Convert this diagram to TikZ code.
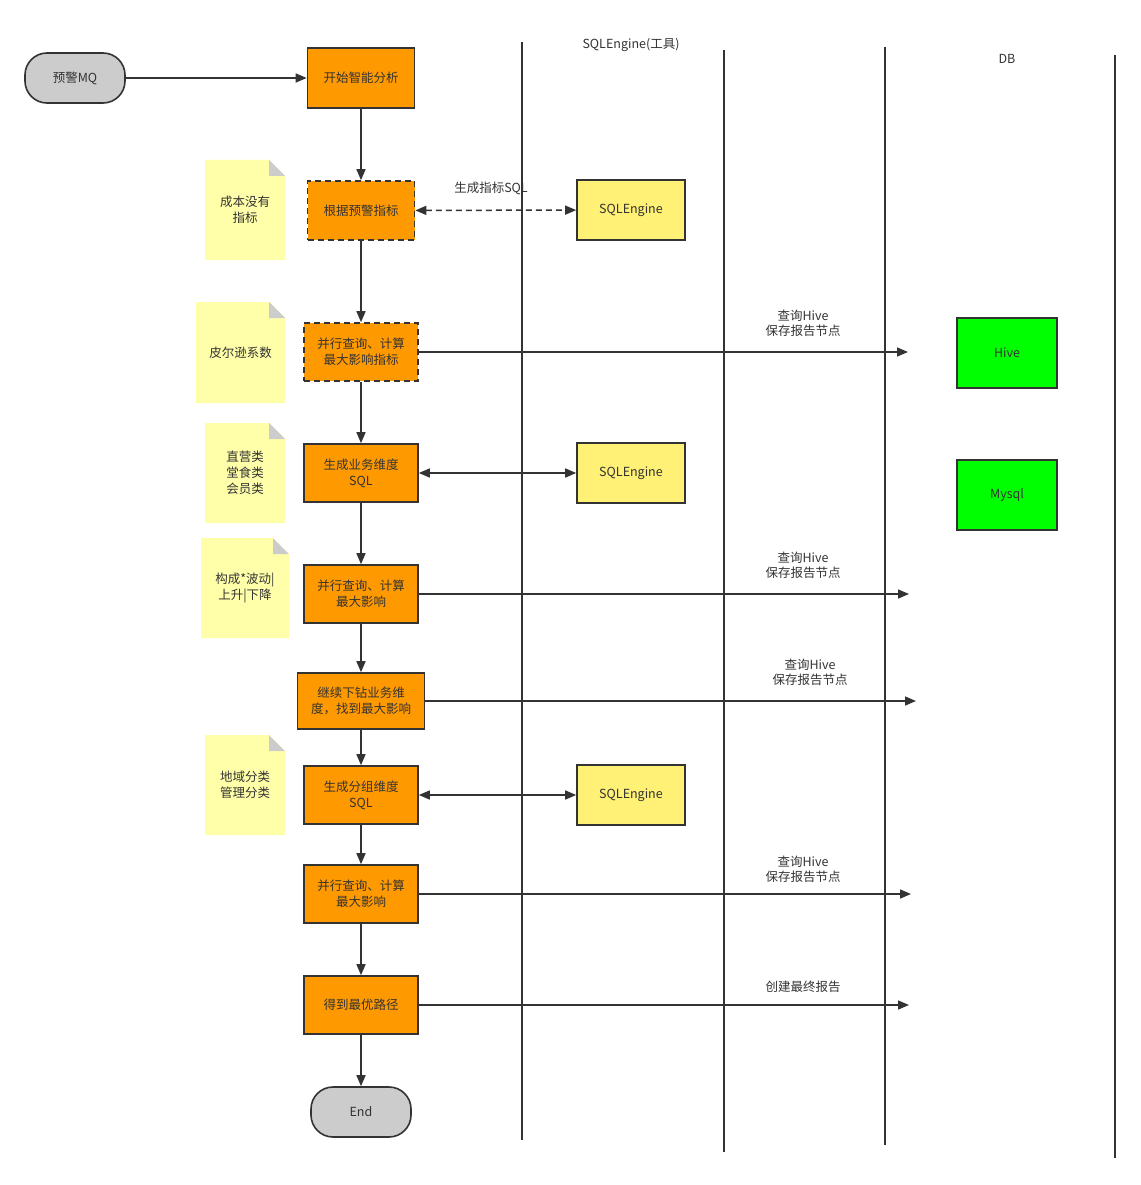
\documentclass[tikz,border=0pt]{standalone}
\usepackage{fontspec}
\setmainfont{Noto Sans CJK SC}
\usetikzlibrary{arrows.meta}
\definecolor{ln}{HTML}{333333}
\definecolor{orng}{HTML}{FF9900}
\definecolor{gry}{HTML}{CCCCCC}
\definecolor{ylw}{HTML}{FFF176}
\definecolor{grn}{HTML}{00FF00}
\definecolor{note}{HTML}{FFFFAA}
\definecolor{fold}{HTML}{CCCCCC}
\newcommand{\mynote}[5]{%
  \fill[note] (#1,#2) -- (#3-16,#2) -- (#3,#2+16) -- (#3,#4) -- (#1,#4) -- cycle;
  \fill[fold] (#3-16,#2) -- (#3-16,#2+16) -- (#3,#2+16) -- cycle;
  \coordinate (#5) at ({(#1+#3)/2},{(#2+#4)/2});
}
\begin{document}
\begin{tikzpicture}[x=1pt,y=-1pt,
  every node/.style={font=\fontsize{12.5}{16}\selectfont, text=ln, align=center},
  proc/.style={draw=ln, line width=1.6pt, fill=orng, minimum width=114pt, minimum height=58pt, inner sep=2pt},
  term/.style={draw=ln, line width=1.6pt, fill=gry, minimum width=100pt, minimum height=50pt, rounded corners=22pt},
  eng/.style={draw=ln, line width=1.6pt, fill=ylw, minimum width=108pt, minimum height=60pt},
  db/.style={draw=ln, line width=1.6pt, fill=grn, minimum width=100pt, minimum height=70pt},
  arr/.style={draw=ln, line width=1.5pt, -{Triangle[length=11pt,width=9pt]}},
  barr/.style={draw=ln, line width=1.5pt, {Triangle[length=11pt,width=9pt]}-{Triangle[length=11pt,width=9pt]}},
  lane/.style={draw=ln, line width=1.6pt},
  lbl/.style={font=\fontsize{12.5}{15}\selectfont}
]
\useasboundingbox (0,0) rectangle (1140,1185);

% lanes
\draw[lane] (522,42) -- (522,1140);
\draw[lane] (724,50) -- (724,1152);
\draw[lane] (885,47) -- (885,1145);
\draw[lane] (1115,55) -- (1115,1158);
\node[lbl] (laneA) at (631,45) {SQLEngine(工具)};
\node[lbl] (laneB) at (1007,59) {DB};

% notes
\mynote{205}{160}{285}{260}{pA}
\node (noteA) at (pA) {成本没有\\指标};
\mynote{196}{302}{285}{403}{pB}
\node (noteB) at (pB) {皮尔逊系数};
\mynote{205}{423}{285}{523}{pC}
\node (noteC) at (pC) {直营类\\堂食类\\会员类};
\mynote{201}{538}{289}{638}{pD}
\node (noteD) at (pD) {构成*波动|\\上升|下降};
\mynote{205}{735}{285}{835}{pE}
\node (noteE) at (pE) {地域分类\\管理分类};

% main flow
\node[term] (mq) at (75,78) {预警MQ};
\node[proc, minimum width=107pt, minimum height=60pt] (n1) at (361,78) {开始智能分析};
\node[proc, minimum width=107pt, minimum height=59pt, dashed, dash pattern=on 6pt off 4pt] (n2) at (361,210.5) {根据预警指标};
\node[proc, dashed, dash pattern=on 6pt off 4pt] (n3) at (361,352) {并行查询、计算\\最大影响指标};
\node[proc] (n4) at (361,473) {生成业务维度\\SQL};
\node[proc] (n5) at (361,594) {并行查询、计算\\最大影响};
\node[proc, minimum width=127pt, minimum height=56pt] (n6) at (361,701) {继续下钻业务维\\度，找到最大影响};
\node[proc] (n7) at (361,795) {生成分组维度\\SQL};
\node[proc] (n8) at (361,894) {并行查询、计算\\最大影响};
\node[proc] (n9) at (361,1005) {得到最优路径};
\node[term] (end) at (361,1112) {End};

% engines and dbs
\node[eng] (e1) at (631,210) {SQLEngine};
\node[eng] (e2) at (631,473) {SQLEngine};
\node[eng] (e3) at (631,795) {SQLEngine};
\node[db] (hive) at (1007,353) {Hive};
\node[db] (mysql) at (1007,495) {Mysql};

% arrow ends
\coordinate (h1) at (908,352);
\coordinate (h2) at (909,594);
\coordinate (h3) at (916,701);
\coordinate (h4) at (911,894);
\coordinate (h5) at (909,1005);

% connectors
\draw[arr] (mq) -- (n1);
\draw[arr] (n1) -- (n2);
\draw[arr] (n2) -- (n3);
\draw[arr] (n3) -- (n4);
\draw[arr] (n4) -- (n5);
\draw[arr] (n5) -- (n6);
\draw[arr] (n6) -- (n7);
\draw[arr] (n7) -- (n8);
\draw[arr] (n8) -- (n9);
\draw[arr] (n9) -- (end);

\draw[barr, dashed, dash pattern=on 6pt off 4pt] (n2) -- (e1);
\node[lbl] (l0) at (491,188) {生成指标SQL};
\draw[barr] (n4) -- (e2);
\draw[barr] (n7) -- (e3);

\draw[arr] (n3) -- (h1);
\node[lbl] (l1) at (803,323) {查询Hive\\保存报告节点};
\draw[arr] (n5) -- (h2);
\node[lbl] (l2) at (803,565) {查询Hive\\保存报告节点};
\draw[arr] (n6) -- (h3);
\node[lbl] (l3) at (810,672) {查询Hive\\保存报告节点};
\draw[arr] (n8) -- (h4);
\node[lbl] (l4) at (803,869) {查询Hive\\保存报告节点};
\draw[arr] (n9) -- (h5);
\node[lbl] (l5) at (803,987) {创建最终报告};
\end{tikzpicture}
\end{document}
